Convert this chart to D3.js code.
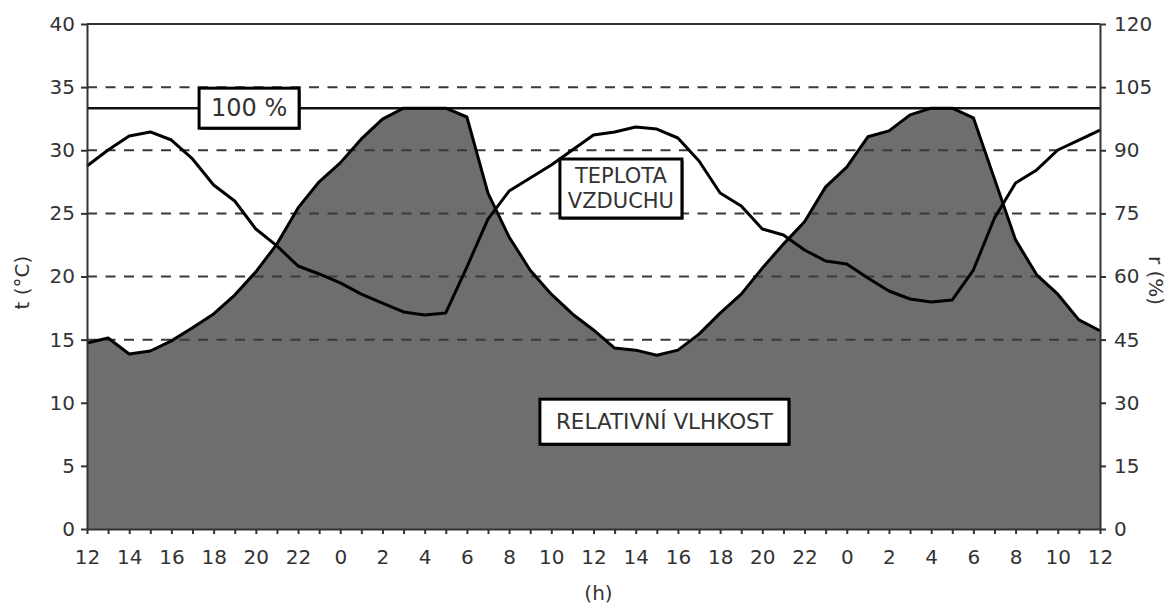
<!DOCTYPE html>
<html>
<head>
<meta charset="utf-8">
<script src="https://cdn.jsdelivr.net/npm/d3@7"></script>
<style>
  html, body { margin: 0; padding: 0; background: #fff; }
  svg { display: block; }
  text { font-family: "DejaVu Sans", Verdana, sans-serif; fill: #333; }
</style>
</head>
<body>
<svg id="chart" width="1168" height="605"></svg>
<script>
// ---- data ----
// hours elapsed from 12:00 of the first day (0..48)
const hours = [0,1,2,3,4,5,6,7,8,9,10,11,12,13,14,15,16,17,18,19,20,21,22,23,24,
               25,26,27,28,29,30,31,32,33,34,35,36,37,38,39,40,41,42,43,44,45,46,47,48];
// air temperature t (°C) – left axis
const temperature = [28.75,30.02,31.13,31.45,30.81,29.31,27.25,25.98,23.76,22.42,20.83,20.20,19.49,
                     18.61,17.90,17.19,16.95,17.11,20.75,24.55,26.77,27.80,28.83,30.02,31.21,
                     31.45,31.84,31.68,30.97,29.15,26.61,25.58,23.76,23.29,22.10,21.23,20.99,
                     19.88,18.85,18.22,17.98,18.14,20.51,24.63,27.41,28.44,30.02,30.81,31.60];
// relative humidity r (%) – right axis
const humidity = [44.2,45.4,41.6,42.3,44.7,47.8,51.1,55.6,61.1,67.7,76.3,82.5,87.0,
                  92.7,97.4,100,100,100,97.9,79.8,69.4,61.5,55.8,51.1,47.3,
                  43.0,42.5,41.3,42.5,46.3,51.3,55.8,62.0,67.7,73.0,81.3,86.0,
                  93.2,94.6,98.4,100,100,97.7,83.2,68.7,60.4,55.8,49.7,47.1];
const leftTicks = [0,5,10,15,20,25,30,35,40];
const rightTicks = [0,15,30,45,60,75,90,105,120];
const gridValues = [15,20,25,30,35];
const hourTicks = d3.range(0, 49, 1);
const saturation = 100;

// ---- layout ----
const svg = d3.select("#chart");
const L = 87, R = 1100, T = 24, B = 529;
const x = d3.scaleLinear().domain([0, 48]).range([L, R]);
const yL = d3.scaleLinear().domain([0, 40]).range([B, T]);
const yR = d3.scaleLinear().domain([0, 120]).range([B, T]);
const font = '"DejaVu Sans", Verdana, sans-serif';

const hum = hours.map((h, i) => ({h, v: humidity[i]}));
const tmp = hours.map((h, i) => ({h, v: temperature[i]}));

// humidity area
svg.append("path")
  .datum(hum)
  .attr("d", d3.area().x(d => x(d.h)).y0(B).y1(d => yR(d.v)))
  .attr("fill", "#6e6e6e");

// dashed grid
svg.append("g").selectAll("line").data(gridValues).join("line")
  .attr("x1", L).attr("x2", R)
  .attr("y1", d => yL(d)).attr("y2", d => yL(d))
  .attr("stroke", "#3a3a3a").attr("stroke-width", 2)
  .attr("stroke-dasharray", "10,8.5");

// top border
svg.append("line").attr("x1", L).attr("x2", R).attr("y1", T).attr("y2", T)
  .attr("stroke", "#333").attr("stroke-width", 2);

// 100 % line
svg.append("line").attr("x1", L).attr("x2", R)
  .attr("y1", yR(saturation)).attr("y2", yR(saturation))
  .attr("stroke", "#111").attr("stroke-width", 2.5);

// humidity curve
svg.append("path")
  .datum(hum)
  .attr("d", d3.line().x(d => x(d.h)).y(d => yR(d.v)))
  .attr("fill", "none").attr("stroke", "#000").attr("stroke-width", 3)
  .attr("stroke-linejoin", "round");

// temperature curve
svg.append("path")
  .datum(tmp)
  .attr("d", d3.line().x(d => x(d.h)).y(d => yL(d.v)))
  .attr("fill", "none").attr("stroke", "#000").attr("stroke-width", 3)
  .attr("stroke-linejoin", "round");

// axes
function styleAxis(g) {
  g.selectAll(".domain").attr("stroke", "#333").attr("stroke-width", 2);
  g.selectAll(".tick line").attr("stroke", "#333").attr("stroke-width", 2);
  g.selectAll(".tick text").attr("font-family", font).attr("font-size", 20).attr("fill", "#333");
}
svg.append("g").attr("transform", `translate(${L},0)`)
  .call(d3.axisLeft(yL).tickValues(leftTicks).tickSize(6).tickPadding(6).tickSizeOuter(0))
  .call(styleAxis);
svg.append("g").attr("transform", `translate(${R},0)`)
  .call(d3.axisRight(yR).tickValues(rightTicks).tickSize(6).tickPadding(8).tickSizeOuter(0))
  .call(styleAxis);
svg.append("g").attr("transform", `translate(0,${B})`)
  .call(d3.axisBottom(x).tickValues(hourTicks).tickSize(5).tickPadding(16).tickSizeOuter(0)
    .tickFormat(h => (h % 2 === 0) ? String((12 + h) % 24) : ""))
  .call(styleAxis);

// axis titles
svg.append("text").attr("transform", `translate(22,${(T + B) / 2 + 6}) rotate(-90)`)
  .attr("text-anchor", "middle").attr("dominant-baseline", "central")
  .attr("font-size", 20).text("t (°C)");
svg.append("text").attr("transform", `translate(1156,${(T + B) / 2 + 4}) rotate(90)`)
  .attr("text-anchor", "middle").attr("dominant-baseline", "central")
  .attr("font-size", 20).text("r (%)");
svg.append("text").attr("x", (L + R) / 2 + 5).attr("y", 593)
  .attr("text-anchor", "middle").attr("dominant-baseline", "central")
  .attr("font-size", 20).text("(h)");

// label boxes
function labelBox(cx, cy, w, h, lines, fs) {
  const g = svg.append("g");
  g.append("rect").attr("x", cx - w / 2 + 1.5).attr("y", cy - h / 2 + 1.5)
    .attr("width", w).attr("height", h).attr("fill", "#000");
  g.append("rect").attr("x", cx - w / 2).attr("y", cy - h / 2)
    .attr("width", w).attr("height", h).attr("fill", "#fff")
    .attr("stroke", "#000").attr("stroke-width", 3);
  const lh = fs * 1.2;
  lines.forEach((t, i) => {
    g.append("text").attr("x", cx).attr("y", cy + (i - (lines.length - 1) / 2) * lh)
      .attr("text-anchor", "middle").attr("dominant-baseline", "central")
      .attr("font-size", fs).attr("fill", "#333").text(t);
  });
}
labelBox(x(7.68), yR(saturation), 100, 40, ["100 %"], 24);
labelBox(x(25.3), yL(26.97), 122, 59, ["TEPLOTA", "VZDUCHU"], 21);
labelBox(x(27.36), yL(8.5), 249, 45, ["RELATIVNÍ VLHKOST"], 21.5);
</script>
</body>
</html>
